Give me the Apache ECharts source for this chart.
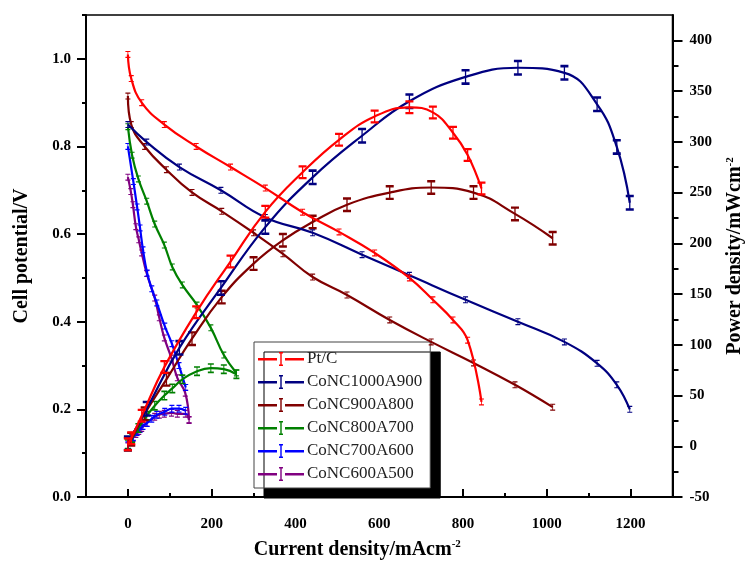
<!DOCTYPE html>
<html>
<head>
<meta charset="utf-8">
<script src="https://cdn.jsdelivr.net/npm/echarts@6/dist/echarts.min.js"></script>
<style>html,body{margin:0;padding:0;background:#fff;}#c{width:753px;height:565px;}</style>
</head>
<body>
<div id="c"></div>
<script>
// ---- data ----
const names = ['Pt/C', 'CoNC1000A900', 'CoNC900A800', 'CoNC800A700', 'CoNC700A600', 'CoNC600A500'];
const colors = ['#ff0000', '#000080', '#800000', '#008000', '#0000ff', '#800080'];

const ptcI = [0, 8, 33, 87, 163, 245, 328, 417, 504, 589, 672, 728, 776, 811, 844];
const ptcV = [1.01, 0.955, 0.90, 0.85, 0.80, 0.753, 0.705, 0.65, 0.605, 0.557, 0.50, 0.45, 0.404, 0.358, 0.217];
const ptcP = [2, 8, 30, 78, 132, 182, 231, 270, 302, 325, 334, 329, 309, 287, 254];

const c1000I = [0, 45, 123, 222, 328, 441, 559, 672, 806, 931, 1042, 1120, 1167, 1198];
const c1000V = [0.85, 0.81, 0.753, 0.70, 0.638, 0.603, 0.553, 0.506, 0.45, 0.40, 0.354, 0.305, 0.256, 0.20];
const c1000P = [3, 37, 97, 156, 216, 265, 306, 340, 364, 373, 368, 337, 295, 240];

const c900I = [0, 8, 40, 92, 153, 224, 300, 370, 441, 523, 625, 724, 825, 924, 1014];
const c900V = [0.915, 0.85, 0.80, 0.747, 0.695, 0.652, 0.603, 0.555, 0.502, 0.461, 0.404, 0.354, 0.306, 0.256, 0.205];
const c900P = [2, 7, 32, 66, 106, 147, 180, 203, 221, 238, 250, 255, 250, 229, 205];

const c800I = [0, 10, 25, 45, 64, 87, 106, 130, 165, 198, 229, 259];
const c800V = [0.845, 0.78, 0.726, 0.675, 0.623, 0.575, 0.525, 0.484, 0.438, 0.386, 0.324, 0.283];
const c800P = [2, 8, 18, 30, 40, 50, 57, 66, 74, 77, 76, 71];

const c700I = [0, 13, 22, 29, 36, 46, 57, 69, 88, 105, 122, 138];
const c700V = [0.80, 0.72, 0.662, 0.614, 0.564, 0.511, 0.475, 0.443, 0.39, 0.35, 0.30, 0.25];
const c700P = [1, 9, 14, 17, 20, 23, 27, 31, 34, 37, 37, 35];

const c600I = [0, 7, 12, 19, 26, 33, 45, 64, 75, 87, 104, 118, 137, 146];
const c600V = [0.73, 0.697, 0.667, 0.617, 0.587, 0.557, 0.51, 0.454, 0.409, 0.363, 0.317, 0.272, 0.237, 0.176];
const c600P = [0, 5, 8, 12, 15, 18, 23, 29, 31, 32, 33, 32, 32, 26];

const xTicks = [0, 200, 400, 600, 800, 1000, 1200];
const xMinorTicks = [-100, 100, 300, 500, 700, 900, 1100, 1300];
const leftTicks = [0, 0.2, 0.4, 0.6, 0.8, 1.0];
const leftMinorTicks = [0.1, 0.3, 0.5, 0.7, 0.9, 1.1];
const rightTicks = [-50, 0, 50, 100, 150, 200, 250, 300, 350, 400];
const rightMinorTicks = [-25, 25, 75, 125, 175, 225, 275, 325, 375];

// ---- build ----
const samples = [
  [ptcI, ptcV, ptcP, [8, 14]],
  [c1000I, c1000V, c1000P, [8, 16]],
  [c900I, c900V, c900P, [8, 15]],
  [c800I, c800V, c800P, [6, 10]],
  [c700I, c700V, c700P, [5, 8]],
  [c600I, c600V, c600P, [5, 8]]
];
const ibeam = 'path://M0,0H10V1.6H5.8V8.4H10V10H0V8.4H4.2V1.6H0Z';
const legendIcon = 'path://M0,6H19V8.4H0Z M21,0H25V1.6H23.7V12.4H25V14H21V12.4H22.3V1.6H21Z M27,6H46V8.4H27Z';
const serif = '"Liberation Serif", "DejaVu Serif", serif';

const series = [];
samples.forEach((s, k) => {
  const [I, V, P, psize] = s;
  series.push({
    name: names[k], type: 'line', xAxisIndex: 0, yAxisIndex: 0,
    data: I.map((x, i) => [x, V[i]]),
    smooth: 0.45,
    symbol: ibeam, symbolSize: [5, 7],
    lineStyle: { color: colors[k], width: 2.2 },
    itemStyle: { color: colors[k] },
    z: 10 - k
  });
  series.push({
    name: names[k], type: 'line', xAxisIndex: 0, yAxisIndex: 1,
    data: I.map((x, i) => [x, P[i]]),
    smooth: 0.45,
    symbol: ibeam, symbolSize: psize,
    lineStyle: { color: colors[k], width: 2.2 },
    itemStyle: { color: colors[k] },
    z: 10 - k
  });
});

const lbl = { fontFamily: serif, fontWeight: 'bold', fontSize: 15, color: '#000', formatter: v => String(v) };
const axLine = { show: true, onZero: false, lineStyle: { color: '#000', width: 2 } };
const noLine = { show: false, onZero: false };
const nameStyle = {
  fontFamily: serif, fontWeight: 'bold', fontSize: 20, color: '#000',
  rich: { sup: { fontFamily: serif, fontWeight: 'bold', fontSize: 11, color: '#000', verticalAlign: 'top', padding: [0, 0, 10, 0] } }
};

const chart = echarts.init(document.getElementById('c'), null, { renderer: 'canvas' });
chart.setOption({
  animation: false,
  backgroundColor: '#fff',
  grid: { left: 86, right: 74, top: 15, bottom: 68, show: true, borderColor: '#000', borderWidth: 1.5, backgroundColor: 'transparent', containLabel: false },
  legend: {
    data: names,
    orient: 'vertical', left: 254, top: 342,
    icon: legendIcon, itemWidth: 46, itemHeight: 14, itemGap: 5,
    padding: [8, 8, 5, 4],
    backgroundColor: '#fff', borderColor: '#444', borderWidth: 1,
    shadowColor: '#000', shadowBlur: 0, shadowOffsetX: 10, shadowOffsetY: 10,
    textStyle: { fontFamily: serif, fontSize: 17, color: '#222', lineHeight: 18, padding: [0, 0, 0, -2] },
    selectedMode: false
  },
  xAxis: [
    {
      type: 'value', min: -100, max: 1300, position: 'bottom',
      name: 'Current density/mAcm{sup|-2}', nameLocation: 'middle', nameGap: 42,
      nameTextStyle: Object.assign({ padding: [0, 44, 0, 0] }, nameStyle),
      axisLine: axLine,
      axisTick: { show: true, inside: true, length: 8, lineStyle: { color: '#000', width: 2 }, customValues: xTicks },
      axisLabel: Object.assign({ margin: 20, customValues: xTicks }, lbl),
      splitLine: { show: false }
    },
    {
      type: 'value', min: -100, max: 1300, position: 'bottom',
      axisLine: noLine,
      axisTick: { show: true, inside: true, length: 4, lineStyle: { color: '#000', width: 2 }, customValues: xMinorTicks },
      axisLabel: { show: false },
      splitLine: { show: false }
    }
  ],
  yAxis: [
    {
      type: 'value', min: 0, max: 1.1, position: 'left',
      name: 'Cell potential/V', nameLocation: 'middle', nameGap: 54, nameRotate: 90,
      nameTextStyle: nameStyle,
      axisLine: axLine,
      axisTick: { show: true, inside: false, length: 9, lineStyle: { color: '#000', width: 2 }, customValues: leftTicks },
      axisLabel: Object.assign({}, lbl, { margin: 15, customValues: leftTicks, formatter: v => v.toFixed(1) }),
      splitLine: { show: false }
    },
    {
      type: 'value', min: -50, max: 425, position: 'right',
      name: 'Power density/mWcm{sup|-2}', nameLocation: 'middle', nameGap: 52, nameRotate: 90,
      nameTextStyle: nameStyle,
      axisLine: axLine,
      axisTick: { show: true, inside: false, length: 10, lineStyle: { color: '#000', width: 2 }, customValues: rightTicks },
      axisLabel: Object.assign({ margin: 17, customValues: rightTicks }, lbl),
      splitLine: { show: false }
    },
    {
      type: 'value', min: 0, max: 1.1, position: 'left',
      axisLine: noLine,
      axisTick: { show: true, inside: false, length: 4, lineStyle: { color: '#000', width: 2 }, customValues: leftMinorTicks },
      axisLabel: { show: false },
      splitLine: { show: false }
    },
    {
      type: 'value', min: -50, max: 425, position: 'right',
      axisLine: noLine,
      axisTick: { show: true, inside: false, length: 6, lineStyle: { color: '#000', width: 2 }, customValues: rightMinorTicks },
      axisLabel: { show: false },
      splitLine: { show: false }
    }
  ],
  series: series
});
</script>
</body>
</html>
